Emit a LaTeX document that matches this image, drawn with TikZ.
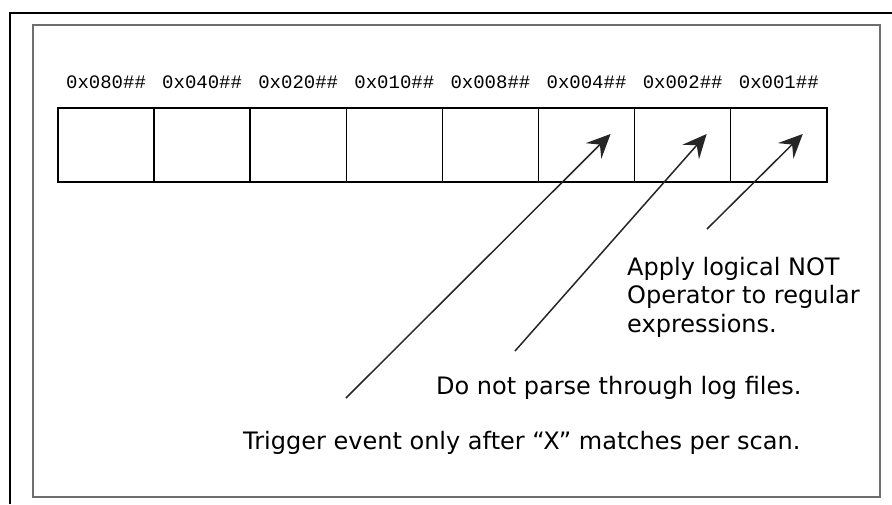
\documentclass[tikz,border=0pt]{standalone}
\usepackage{fontspec}
\setmainfont{DejaVu Sans}
\newfontfamily\hexfont{Liberation Mono}
\usetikzlibrary{arrows.meta}
\begin{document}
\begin{tikzpicture}[x=1pt,y=-1pt,
  cellbox/.style={draw=black, line width=1.5pt, minimum width=96.1pt, minimum height=74pt, inner sep=0pt, outer sep=0pt},
  hexlabel/.style={font=\hexfont\fontsize{19}{19}\selectfont, inner sep=0pt},
  note/.style={font=\fontsize{24}{28.5}\selectfont, inner sep=0pt, anchor=base west, align=left},
  pointer/.style={draw=black!85, line width=1.5pt, -{Stealth[length=24pt,width=22pt,inset=9pt]}},
  outerframe/.style={draw=black, line width=2pt},
  innerframe/.style={draw={rgb,255:red,110;green,110;blue,110}, line width=2.5pt}
]
\useasboundingbox (0,0) rectangle (892,504);
\fill[white] (0,0) rectangle (892,504);
\draw[outerframe] (10,504) -- (10,13) -- (892,13);
\draw[innerframe] (33,25) rectangle (880,497);

\foreach \i/\t in {1/0x080\#\#,2/0x040\#\#,3/0x020\#\#,4/0x010\#\#,5/0x008\#\#,6/0x004\#\#,7/0x002\#\#,8/0x001\#\#}{
  \node[cellbox] (c\i) at ({58+96.1*(\i-0.5)},145) {};
  \node[hexlabel] (l\i) at ({58+96.1*(\i-0.5)},82) {\t};
}

\node[note] (n1) at (627,332) {Apply logical NOT\\Operator to regular\\expressions.};
\node[note] (n2) at (436,394) {Do not parse through log files.};
\node[note] (n3) at (243,449) {Trigger event only after “X” matches per scan.};

\coordinate (t1) at (346,398);
\coordinate (t2) at (515,351);
\coordinate (t3) at (707,229);

\draw[pointer] (t1) -- ([shift={(24,-11)}]c6.center);
\draw[pointer] (t2) -- ([shift={(24,-11)}]c7.center);
\draw[pointer] (t3) -- ([shift={(24,-11)}]c8.center);
\end{tikzpicture}
\end{document}
